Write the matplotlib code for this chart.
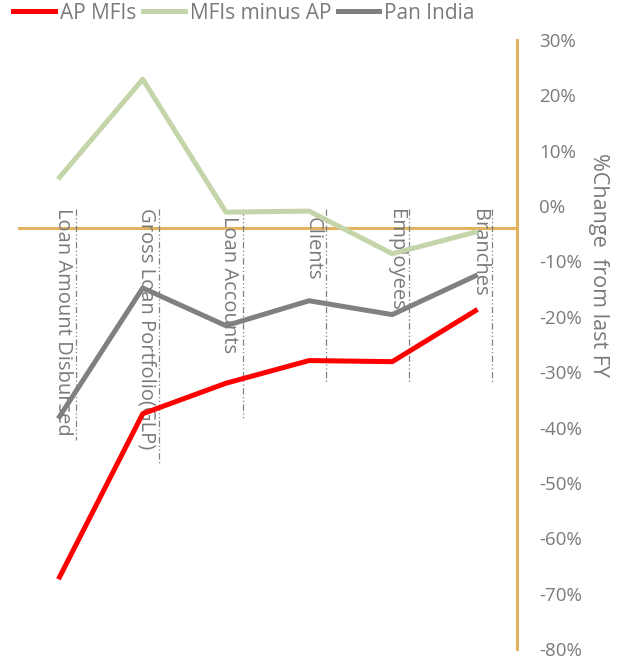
import matplotlib.pyplot as plt
from matplotlib.ticker import FuncFormatter

plt.rcParams['font.family'] = ['Open Sans', 'DejaVu Sans']

# % change from last FY
categories = ['Loan Amount Disbursed', 'Gross Loan Portfolio(GLP)', 'Loan Accounts',
              'Clients', 'Employees', 'Branches']
ap_mfis = [-67.0, -37.5, -32.0, -27.9, -28.1, -18.9]
mfis_minus_ap = [5.2, 22.9, -1.1, -0.9, -8.6, -4.7]
pan_india = [-38.0, -14.8, -21.6, -17.1, -19.6, -12.6]

# label top and dashed guide bottom for each category (in % units)
label_top = [-0.3, -0.3, -1.7, -1.9, -0.5, -0.6]
guide_bottom = [-42.3, -46.8, -38.4, -31.7, -31.7, -31.7]

gold = '#E2B25E'
txt = '#7a7a7a'

fig = plt.figure(figsize=(6.39, 6.59), dpi=100)
ax = fig.add_axes([18 / 639, 1 - 649 / 659, (517 - 18) / 639, (649 - 40) / 659])

x = list(range(len(categories)))
ax.plot(x, ap_mfis, color='#FF0000', lw=3.6, label='AP MFIs', zorder=4)
ax.plot(x, mfis_minus_ap, color='#C4D5AA', lw=3.6, label='MFIs minus AP', zorder=3)
ax.plot(x, pan_india, color='#808080', lw=3.6, label='Pan India', zorder=3)

ax.axhline(-4.0, color=gold, lw=2.2, zorder=1)

for i, name in enumerate(categories):
    ax.text(i + 0.04, label_top[i], name, rotation=-90, ha='center', va='top',
            fontsize=14.5, color=txt, zorder=2)
    ax.plot([i + 0.2, i + 0.2], [-0.5, guide_bottom[i]], color='#808080', lw=0.9,
            linestyle=(0, (5, 2, 1, 2, 1, 2)), zorder=2)

ax.set_xlim(-0.5, 5.5)
ax.set_ylim(-80, 30)
ax.set_yticks(range(-80, 31, 10))
ax.yaxis.set_major_formatter(FuncFormatter(lambda v, p: f'{int(v)}%'))
ax.yaxis.tick_right()
ax.yaxis.set_label_position('right')
ax.tick_params(axis='y', length=0, pad=16, labelsize=13.5, labelcolor=txt)
for t in ax.get_yticklabels():
    t.set_horizontalalignment('left')
ax.set_xticks([])
for s in ['top', 'left', 'bottom']:
    ax.spines[s].set_visible(False)
ax.spines['right'].set_color(gold)
ax.spines['right'].set_linewidth(2.2)
ax.set_ylabel('%Change  from last FY', rotation=-90, fontsize=15.5, color=txt)
ax.yaxis.set_label_coords(1.185, 0.63)

fig.legend(loc='upper left', bbox_to_anchor=(0.021, 0.996), ncol=3, frameon=False,
           fontsize=15, handlelength=2.0, handletextpad=0.25, columnspacing=0.3,
           borderaxespad=0, borderpad=0.0, labelcolor=txt)

fig.savefig('out.png', dpi=100)
